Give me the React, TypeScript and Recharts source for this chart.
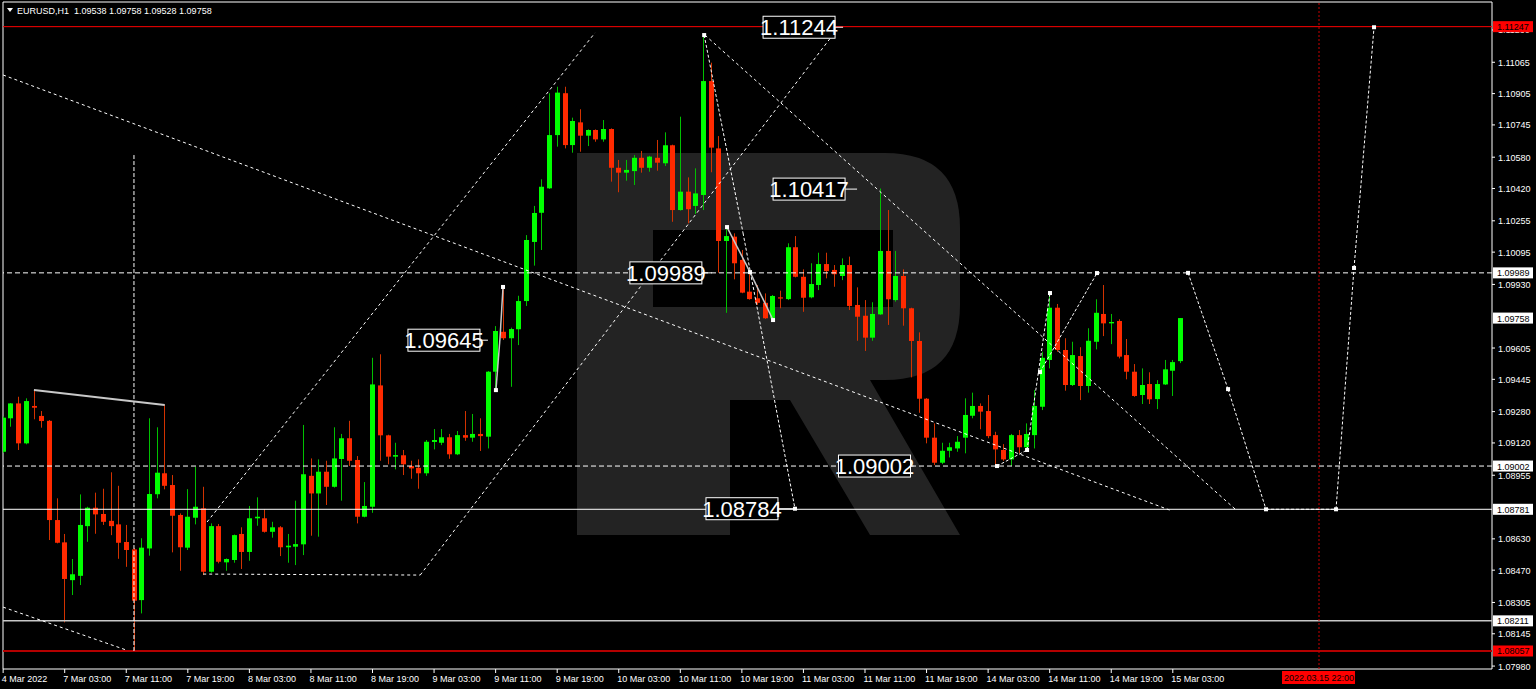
import React from 'react';
import { ComposedChart, Bar, XAxis, YAxis, ReferenceLine, ReferenceDot, ReferenceArea } from 'recharts';

const FONT = "'Liberation Sans', Arial, sans-serif";
const BIG_FONT = "'Liberation Sans Narrow', 'Liberation Sans', Arial, sans-serif";

// ---------- data ----------
const FIRST_BAR = -8; // bar index of first candle (7 Mar 03:00 = 0)

const opens = [
  1.09075, 1.09246, 1.09322, 1.09118, 1.09309, 1.09258, 1.09233, 1.08726,
  1.08612, 1.08419, 1.08441, 1.08695, 1.08789, 1.08757, 1.08722, 1.08704, 1.08614, 1.08576,
  1.08317, 1.08581, 1.08858, 1.08965, 1.08905, 1.08752, 1.08585, 1.08738, 1.08786, 1.08462,
  1.08695, 1.08510, 1.08522, 1.08655, 1.08563, 1.08735, 1.08735, 1.08666, 1.08689, 1.08587,
  1.08590, 1.08602, 1.08952, 1.08862, 1.08973, 1.08896, 1.09038, 1.09144, 1.09033, 1.08743,
  1.08794, 1.09414, 1.09159, 1.09050, 1.09057, 1.09002, 1.08993, 1.08965, 1.09125, 1.09121,
  1.09149, 1.09062, 1.09160, 1.09147, 1.09166, 1.09152, 1.09484, 1.09688, 1.09655, 1.09701,
  1.09845, 1.10147, 1.10296, 1.10421, 1.10693, 1.10907, 1.10642, 1.10758, 1.10690, 1.10719,
  1.10671, 1.10724, 1.10526, 1.10501, 1.10509, 1.10577, 1.10526, 1.10577, 1.10549, 1.10641,
  1.10310, 1.10404, 1.10331, 1.10387, 1.10969, 1.10625, 1.10152, 1.10174, 1.10055, 1.09893,
  1.09859, 1.09836, 1.09757, 1.09864, 1.09855, 1.10120, 1.09969, 1.09864, 1.09927, 1.10034,
  1.10004, 1.09973, 1.10029, 1.09825, 1.09770, 1.09658, 1.09777, 1.10101, 1.09850, 1.09973,
  1.09808, 1.09641, 1.09346, 1.09147, 1.09019, 1.09080, 1.09092, 1.09147, 1.09259, 1.09309,
  1.09283, 1.09160, 1.09084, 1.09036, 1.09160, 1.09098, 1.09160, 1.09305, 1.09544, 1.09811,
  1.09595, 1.09416, 1.09564, 1.09411, 1.09637, 1.09779, 1.09731, 1.09743, 1.09569, 1.09484,
  1.09365, 1.09421, 1.09344, 1.09419, 1.09489, 1.09538,
];
const highs = [
  1.09255, 1.09324, 1.09356, 1.09348, 1.09390, 1.09283, 1.09237, 1.08837,
  1.08655, 1.08527, 1.08857, 1.08794, 1.08866, 1.08886, 1.08970, 1.08901, 1.08701, 1.08583,
  1.08633, 1.09246, 1.09200, 1.09314, 1.08956, 1.08760, 1.08884, 1.08998, 1.08896, 1.08709,
  1.08706, 1.08530, 1.08652, 1.08689, 1.08798, 1.08842, 1.08781, 1.08717, 1.08695, 1.08655,
  1.08825, 1.09212, 1.09041, 1.09036, 1.09029, 1.09200, 1.09166, 1.09233, 1.09053, 1.08920,
  1.09555, 1.09573, 1.09162, 1.09121, 1.09084, 1.09029, 1.09036, 1.09135, 1.09191, 1.09191,
  1.09166, 1.09181, 1.09283, 1.09268, 1.09246, 1.09487, 1.09717, 1.09915, 1.09709, 1.09872,
  1.10182, 1.10331, 1.10467, 1.10907, 1.10940, 1.10940, 1.10782, 1.10825, 1.10722, 1.10722,
  1.10770, 1.10727, 1.10566, 1.10566, 1.10591, 1.10612, 1.10587, 1.10668, 1.10707, 1.10644,
  1.10787, 1.10477, 1.10523, 1.11204, 1.11063, 1.10688, 1.10228, 1.10191, 1.10106, 1.09995,
  1.09927, 1.09884, 1.09876, 1.09898, 1.10140, 1.10177, 1.10007, 1.10038, 1.10092, 1.10092,
  1.10029, 1.10063, 1.10072, 1.09915, 1.09850, 1.09839, 1.10420, 1.10310, 1.10101, 1.10007,
  1.09811, 1.09685, 1.09349, 1.09220, 1.09121, 1.09121, 1.09155, 1.09348, 1.09377, 1.09322,
  1.09365, 1.09177, 1.09114, 1.09166, 1.09186, 1.09220, 1.09390, 1.09586, 1.09893, 1.09830,
  1.09655, 1.09637, 1.09609, 1.09706, 1.09854, 1.09927, 1.09779, 1.09752, 1.09651, 1.09523,
  1.09501, 1.09481, 1.09441, 1.09544, 1.09544, 1.09758,
];
const lows = [
  1.09070, 1.09203, 1.09084, 1.09113, 1.09241, 1.09198, 1.08624, 1.08607,
  1.08203, 1.08343, 1.08394, 1.08615, 1.08656, 1.08701, 1.08649, 1.08528, 1.08487, 1.08057,
  1.08249, 1.08544, 1.08837, 1.08883, 1.08561, 1.08467, 1.08573, 1.08704, 1.08445, 1.08457,
  1.08505, 1.08467, 1.08508, 1.08476, 1.08518, 1.08697, 1.08662, 1.08636, 1.08542, 1.08508,
  1.08496, 1.08547, 1.08646, 1.08641, 1.08803, 1.08892, 1.08825, 1.09002, 1.08709, 1.08740,
  1.08763, 1.09029, 1.09011, 1.08985, 1.08956, 1.08937, 1.08886, 1.08952, 1.09087, 1.09109,
  1.09039, 1.09058, 1.09131, 1.09126, 1.09079, 1.09092, 1.09390, 1.09646, 1.09407, 1.09620,
  1.09820, 1.10026, 1.10106, 1.10418, 1.10634, 1.10625, 1.10603, 1.10608, 1.10637, 1.10659,
  1.10659, 1.10455, 1.10401, 1.10460, 1.10438, 1.10501, 1.10506, 1.10511, 1.10535, 1.10250,
  1.10307, 1.10242, 1.10290, 1.10310, 1.10503, 1.09990, 1.09785, 1.09956, 1.09885, 1.09852,
  1.09825, 1.09754, 1.09748, 1.09808, 1.09850, 1.09966, 1.09790, 1.09859, 1.09901, 1.09961,
  1.09918, 1.09952, 1.09799, 1.09642, 1.09590, 1.09642, 1.09774, 1.09723, 1.09842, 1.09719,
  1.09455, 1.09274, 1.09118, 1.09007, 1.09012, 1.09046, 1.09075, 1.09067, 1.09246, 1.09190,
  1.09144, 1.08998, 1.09029, 1.09002, 1.09067, 1.09092, 1.09092, 1.09288, 1.09501, 1.09586,
  1.09387, 1.09411, 1.09339, 1.09377, 1.09598, 1.09666, 1.09625, 1.09552, 1.09445, 1.09356,
  1.09319, 1.09319, 1.09293, 1.09416, 1.09360, 1.09528,
];
const closes = [
  1.09249, 1.09322, 1.09118, 1.09334, 1.09300, 1.09232, 1.08726, 1.08610,
  1.08425, 1.08449, 1.08701, 1.08789, 1.08755, 1.08717, 1.08695, 1.08610, 1.08573, 1.08314,
  1.08585, 1.08859, 1.08968, 1.08901, 1.08748, 1.08587, 1.08743, 1.08794, 1.08462, 1.08695,
  1.08513, 1.08527, 1.08649, 1.08563, 1.08735, 1.08743, 1.08666, 1.08689, 1.08587, 1.08595,
  1.08603, 1.08960, 1.08862, 1.08973, 1.08896, 1.09041, 1.09144, 1.09029, 1.08743, 1.08798,
  1.09419, 1.09159, 1.09050, 1.09058, 1.09011, 1.08990, 1.08965, 1.09126, 1.09135, 1.09149,
  1.09062, 1.09160, 1.09147, 1.09166, 1.09155, 1.09484, 1.09692, 1.09655, 1.09702, 1.09845,
  1.10157, 1.10295, 1.10429, 1.10693, 1.10910, 1.10642, 1.10765, 1.10690, 1.10719, 1.10671,
  1.10724, 1.10526, 1.10501, 1.10515, 1.10577, 1.10526, 1.10583, 1.10552, 1.10641, 1.10310,
  1.10404, 1.10314, 1.10395, 1.10969, 1.10629, 1.10152, 1.10177, 1.10038, 1.09888, 1.09855,
  1.09836, 1.09757, 1.09871, 1.09859, 1.10120, 1.09969, 1.09862, 1.09932, 1.10034, 1.09998,
  1.09982, 1.10029, 1.09820, 1.09765, 1.09658, 1.09779, 1.10101, 1.09854, 1.09973, 1.09808,
  1.09641, 1.09346, 1.09147, 1.09019, 1.09080, 1.09098, 1.09126, 1.09263, 1.09309, 1.09280,
  1.09155, 1.09087, 1.09036, 1.09160, 1.09098, 1.09166, 1.09309, 1.09555, 1.09811, 1.09595,
  1.09416, 1.09569, 1.09411, 1.09642, 1.09785, 1.09731, 1.09738, 1.09561, 1.09484, 1.09360,
  1.09416, 1.09343, 1.09421, 1.09496, 1.09533, 1.09758,
];

const timeTickBars = [-8, 0, 8, 16, 24, 32, 40, 48, 56, 64, 72, 80, 88, 96, 104, 112, 120, 128, 136, 144];
const timeTickLabels = [
  '4 Mar 2022', '7 Mar 03:00', '7 Mar 11:00', '7 Mar 19:00', '8 Mar 03:00', '8 Mar 11:00',
  '8 Mar 19:00', '9 Mar 03:00', '9 Mar 11:00', '9 Mar 19:00', '10 Mar 03:00', '10 Mar 11:00',
  '10 Mar 19:00', '11 Mar 03:00', '11 Mar 11:00', '11 Mar 19:00', '14 Mar 03:00', '14 Mar 11:00',
  '14 Mar 19:00', '15 Mar 03:00',
];

const priceTicks = [
  1.1123, 1.11065, 1.10905, 1.10745, 1.1058, 1.1042, 1.10255, 1.10095, 1.0993, 1.09605,
  1.09445, 1.0928, 1.0912, 1.08955, 1.0863, 1.0847, 1.08305, 1.08145, 1.0798,
];

const headerText = 'EURUSD,H1  1.09538 1.09758 1.09528 1.09758';

// horizontal levels
const levelPrices = [1.11247, 1.09989, 1.09002, 1.08781, 1.08211, 1.08057];
const currentPrice = 1.09758;
const redTagPrices = [1.11247, 1.08057];

// future vertical line
const futureBar = 163;
const futureLabel = '2022.03.15 22:00';

// analysis drawings: [barIndex, price] points
const dottedPaths: number[][][] = [
  [[-8.0, 1.11], [143.6, 1.08777]],
  [[-8.0, 1.08281], [8.0, 1.08062]],
  [[18.5, 1.08716], [68.9, 1.11215]],
  [[46.2, 1.08445], [99.8, 1.11204]],
  [[18.0, 1.0845], [46.2, 1.08445]],
  [[83.2, 1.11204], [152.1, 1.08782]],
  [[83.1, 1.11204], [88.15, 1.10193], [94.9, 1.08784]],
  [[121.16, 1.09002], [125.06, 1.09084], [128.04, 1.09886]],
  [[126.74, 1.09482], [134.15, 1.09988]],
  [[145.98, 1.09989], [151.18, 1.09395], [156.11, 1.08781], [165.21, 1.08781], [167.55, 1.10014], [170.15, 1.11244]],
  [[9, 1.10591], [9, 1.08057]],
];
const solidPaths: number[][][] = [
  [[-4, 1.0939], [13, 1.09314]],
  [[56.04, 1.0939], [56.57, 1.09656], [56.96, 1.09917]],
  [[86.07, 1.10223], [89.06, 1.09993], [92.05, 1.09748]],
];
const markerPoints: number[][] = [
  [145.98, 1.09989], [151.18, 1.09395], [156.11, 1.08781], [165.21, 1.08781], [167.55, 1.10014], [170.15, 1.11244],
  [134.15, 1.09988], [128.04, 1.09886], [126.74, 1.09482], [125.06, 1.09084], [121.16, 1.09002],
  [94.9, 1.08784], [83.1, 1.11204], [86.07, 1.10223], [89.06, 1.09993], [92.05, 1.09748],
  [56.04, 1.0939], [56.96, 1.09917],
];

// boxed price callouts
const calloutBars = [101.15, 102.97, 84.1, 55.0, 110.3, 94.9];
const calloutPrices = [1.11244, 1.10417, 1.09989, 1.09645, 1.09002, 1.08784];

// ---------- styles ----------
const levelStyles = [
  { stroke: '#ff0000', width: 1, dash: undefined as string | undefined },
  { stroke: '#ffffff', width: 1, dash: '5 3' },
  { stroke: '#ffffff', width: 1, dash: '5 3' },
  { stroke: '#ffffff', width: 1, dash: undefined },
  { stroke: '#c8c8c8', width: 1.5, dash: undefined },
  { stroke: '#b40000', width: 2, dash: undefined },
];
const dottedDash = ['3 3', '3 3', '3 3', '3 3', '3 3', '3 3', '3 2', '3 2', '3 2', '3 2', '4 2'];
const calloutGaps = [8, 12, 10, 8, 3, 17];

const candles = opens.map((o, k) => ({
  i: FIRST_BAR + k,
  open: o,
  high: highs[k],
  low: lows[k],
  close: closes[k],
}));

const tagPrices = [...levelPrices, currentPrice];
const axisTicks = [...priceTicks, ...tagPrices];

const X_DOMAIN = [-8.018, 185.48];
const Y_DOMAIN = [1.07965, 1.11373];

const Candle = (props: any) => {
  const { x, y, width, height, payload } = props;
  if (x == null || y == null) return null;
  const { open, close, high, low } = payload;
  const up = close >= open;
  const range = high - low;
  const k = range > 0 ? height / range : 0;
  const cx = Math.round(x + width / 2);
  const yO = y + (high - open) * k;
  const yC = y + (high - close) * k;
  const top = Math.min(yO, yC);
  const h = Math.max(1.2, Math.abs(yC - yO));
  const wick = up ? '#00c000' : '#d23200';
  const body = up ? '#00ff00' : '#ff2a00';
  return (
    <g>
      <line x1={cx + 0.5} x2={cx + 0.5} y1={y} y2={y + height} stroke={wick} strokeWidth={1} />
      <rect x={cx - 2} y={top} width={5} height={h} fill={body} />
    </g>
  );
};

const PriceTick = (props: any) => {
  const { x, y, payload } = props;
  const v = Number(payload.value);
  const isTag = tagPrices.indexOf(v) >= 0;
  if (isTag) {
    const fill = redTagPrices.indexOf(v) >= 0 ? '#ff0000' : '#ffffff';
    return (
      <g>
        <rect x={x + 1} y={y - 5.5} width={40} height={11} fill={fill} />
        <text x={x + 5} y={y + 3.5} fill="#000000" fontSize={9} fontFamily={FONT}>
          {v.toFixed(5)}
        </text>
      </g>
    );
  }
  return (
    <g>
      <line x1={x} x2={x + 3} y1={y} y2={y} stroke="#ffffff" />
      <text x={x + 6} y={y + 3.5} fill="#ffffff" fontSize={9} fontFamily={FONT}>
        {v.toFixed(5)}
      </text>
    </g>
  );
};

const TimeTick = (props: any) => {
  const { x, y, payload } = props;
  const idx = timeTickBars.indexOf(payload.value);
  const label = idx >= 0 ? timeTickLabels[idx] : '';
  return (
    <g>
      <line x1={x} x2={x} y1={y} y2={y + 4} stroke="#ffffff" />
      <text x={x - 1.5} y={y + 12.5} fill="#ffffff" fontSize={9} fontFamily={FONT}>
        {label}
      </text>
    </g>
  );
};

const futureTag = (p: any) => {
  const vb = p.viewBox || {};
  const cx = vb.x;
  const y = vb.y + vb.height;
  return (
    <g>
      <rect x={cx - 37} y={y + 2} width={73} height={13} fill="#ff0000" />
      <text x={cx} y={y + 12} textAnchor="middle" fill="#000000" fontSize={9} fontFamily={FONT}>
        {futureLabel}
      </text>
    </g>
  );
};

const makeCallout = (text: string, gap: number) => (p: any) => {
  const { cx, cy } = p;
  if (cx == null) return null;
  const w = 72;
  const right = cx - gap;
  return (
    <g>
      <line x1={right} x2={cx} y1={cy} y2={cy} stroke="#ffffff" strokeWidth={1} />
      <rect x={right - w} y={cy - 11} width={w} height={22} fill="#000000" stroke="#ffffff" strokeWidth={1} />
      <text x={right - w / 2} y={cy + 8} textAnchor="middle" fill="#ffffff" fontSize={22} fontFamily={BIG_FONT}>
        {text}
      </text>
    </g>
  );
};

const SquareMarker = (p: any) => {
  const { cx, cy } = p;
  if (cx == null) return null;
  return <rect x={cx - 2} y={cy - 2} width={4} height={4} fill="#ffffff" />;
};

const segmentsOf = (path: number[][]) => {
  const out: { x: number; y: number }[][] = [];
  for (let k = 0; k < path.length - 1; k++) {
    out.push([
      { x: path[k][0], y: path[k][1] },
      { x: path[k + 1][0], y: path[k + 1][1] },
    ]);
  }
  return out;
};

const Logo = () => (
  <svg width={1536} height={689} style={{ position: 'absolute', left: 0, top: 0 }}>
    <path
      fillRule="evenodd"
      fill="#232323"
      d="M577,153 L885,153 Q960,153 960,228 L960,305 Q960,380 885,380 L870,380 L960,535 L870,535 L790,400 L730,400 L730,535 L577,535 Z M653,230 L893,230 L893,307 L653,307 Z"
    />
  </svg>
);

export default function App() {
  return (
    <div style={{ position: 'absolute', left: 0, top: 0, width: 1536, height: 689, background: '#000000', overflow: 'hidden' }}>
      <Logo />
      <div style={{ position: 'absolute', left: 0, top: 0 }}>
        <ComposedChart width={1536} height={689} data={candles} margin={{ top: 2, right: 0, bottom: 0, left: 3 }}>
          <XAxis
            dataKey="i"
            type="number"
            domain={X_DOMAIN}
            allowDataOverflow
            ticks={timeTickBars}
            interval={0}
            height={20}
            tickSize={0}
            tickMargin={0}
            axisLine={false}
            tickLine={false}
            tick={<TimeTick />}
          />
          <YAxis
            orientation="right"
            type="number"
            domain={Y_DOMAIN}
            allowDataOverflow
            ticks={axisTicks}
            interval={0}
            width={44}
            tickSize={0}
            tickMargin={0}
            axisLine={false}
            tickLine={false}
            tick={<PriceTick />}
          />

          {levelPrices.map((p, k) => (
            <ReferenceLine
              key={'lvl' + k}
              y={p}
              stroke={levelStyles[k].stroke}
              strokeWidth={levelStyles[k].width}
              strokeDasharray={levelStyles[k].dash}
              ifOverflow="visible"
            />
          ))}
          <ReferenceLine
            x={futureBar}
            stroke="#c80000"
            strokeWidth={1}
            strokeDasharray="2 2"
            ifOverflow="visible"
            label={futureTag}
          />
          {dottedPaths.map((path, k) =>
            segmentsOf(path).map((seg, s) => (
              <ReferenceLine
                key={'dp' + k + '_' + s}
                segment={seg}
                stroke="#ffffff"
                strokeWidth={1}
                strokeDasharray={dottedDash[k]}
                ifOverflow="visible"
              />
            ))
          )}

          <Bar dataKey={(d: any) => [d.low, d.high]} barSize={5} isAnimationActive={false} shape={<Candle />} />

          {solidPaths.map((path, k) =>
            segmentsOf(path).map((seg, s) => (
              <ReferenceLine
                key={'sp' + k + '_' + s}
                segment={seg}
                stroke="#c8c8c8"
                strokeWidth={k === 0 ? 2 : 1.5}
                ifOverflow="visible"
              />
            ))
          )}
          {markerPoints.map((m, k) => (
            <ReferenceDot key={'mk' + k} x={m[0]} y={m[1]} r={2} ifOverflow="visible" shape={<SquareMarker />} />
          ))}
          {calloutBars.map((b, k) => (
            <ReferenceDot
              key={'co' + k}
              x={b}
              y={calloutPrices[k]}
              r={1}
              ifOverflow="visible"
              shape={makeCallout(calloutPrices[k].toFixed(5), calloutGaps[k])}
            />
          ))}

          <ReferenceArea
            x1={X_DOMAIN[0]}
            x2={X_DOMAIN[1]}
            y1={Y_DOMAIN[0]}
            y2={Y_DOMAIN[1]}
            fill="none"
            stroke="#ffffff"
            strokeWidth={1}
            ifOverflow="visible"
          />
        </ComposedChart>
      </div>
      <svg width={260} height={20} style={{ position: 'absolute', left: 0, top: 0 }}>
        <polygon points="7,8 13,8 10,12" fill="#ffffff" />
        <text x={17} y={14} fill="#ffffff" fontSize={9} fontFamily={FONT} style={{ whiteSpace: 'pre' }}>
          {headerText}
        </text>
      </svg>
    </div>
  );
}
